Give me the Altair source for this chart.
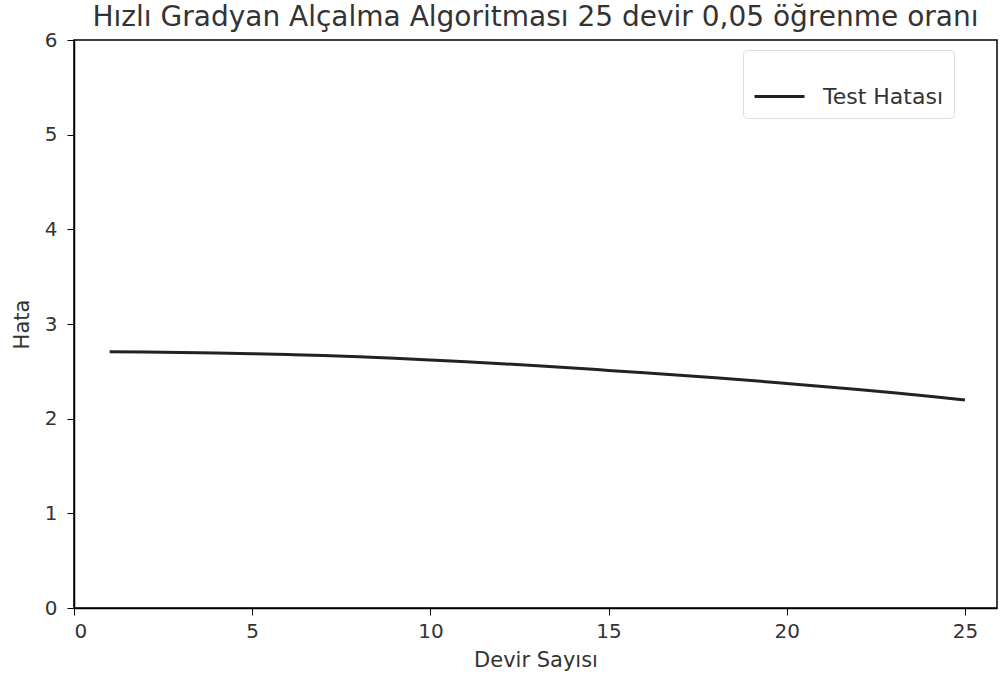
import altair as alt
import pandas as pd

epochs = list(range(1, 26))
test_error = [2.706, 2.703, 2.699, 2.693, 2.686, 2.677, 2.667, 2.654, 2.638, 2.620,
              2.601, 2.581, 2.559, 2.535, 2.510, 2.485, 2.459, 2.432, 2.403, 2.372,
              2.341, 2.308, 2.273, 2.236, 2.196]
series_name = "Test Hatası"
x_ticks = [0, 5, 10, 15, 20, 25]
y_ticks = [0, 1, 2, 3, 4, 5, 6]

df = pd.DataFrame({"Devir": epochs, "Hata": test_error, "Seri": [series_name] * len(epochs)})

FONT = "DejaVu Sans"
TXT = "#333333"

chart = alt.Chart(df).mark_line(strokeWidth=3, interpolate="monotone").encode(
    x=alt.X("Devir:Q", title="Devir Sayısı",
            scale=alt.Scale(domain=[0, 25.9], nice=False, zero=False),
            axis=alt.Axis(values=x_ticks, grid=False, domainColor="black", domainWidth=1.5,
                          tickColor="black", tickSize=7, labelFontSize=20, labelColor=TXT,
                          labelFont=FONT, titleFont=FONT, titleFontSize=21, titleColor=TXT,
                          titleFontWeight="normal", labelPadding=6, titlePadding=8)),
    y=alt.Y("Hata:Q", title="Hata",
            scale=alt.Scale(domain=[0, 6], nice=False),
            axis=alt.Axis(values=y_ticks, grid=False, domainColor="black", domainWidth=1.5,
                          tickColor="black", tickSize=7, labelFontSize=20, labelColor=TXT,
                          labelFont=FONT, titleFont=FONT, titleFontSize=21, titleColor=TXT,
                          titleFontWeight="normal", labelPadding=10, titlePadding=12)),
    color=alt.Color("Seri:N", scale=alt.Scale(range=["#222222"]),
                    legend=alt.Legend(title=" ", titleFontSize=10, titlePadding=0,
                                      orient="none", legendX=669, legendY=10,
                                      symbolType="stroke", symbolSize=2500, symbolStrokeWidth=3,
                                      labelFontSize=22, labelFont=FONT, labelColor=TXT,
                                      padding=10, strokeColor="#dddddd", cornerRadius=4,
                                      fillColor="white", labelOffset=17)),
).properties(
    width=923, height=568,
    title=alt.TitleParams("Hızlı Gradyan Alçalma Algoritması 25 devir 0,05 öğrenme oranı",
                          font=FONT, fontSize=28, fontWeight="normal", color=TXT,
                          anchor="middle", offset=0, dy=2),
    autosize=alt.AutoSizeParams(type="none"),
    padding={"left": 74, "top": 40, "right": 3, "bottom": 71},
).configure(background="white").configure_view(stroke="black", strokeWidth=1.5)

chart.save("out.html", embed_options={"renderer": "svg", "actions": False})
